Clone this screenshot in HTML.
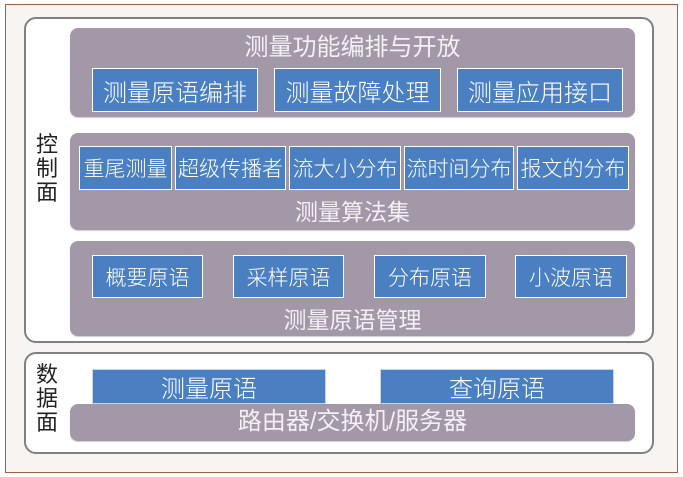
<!DOCTYPE html><html><head><meta charset="utf-8"><style>
body{margin:0;width:683px;height:477px;background:#fff;position:relative;overflow:hidden;font-family:"Liberation Sans","Noto Sans CJK SC",sans-serif;}
div{position:absolute;box-sizing:border-box}
.o{left:5px;top:4px;width:673px;height:469px;border:1px solid #a0604a;background:#f7f4f1}
.p{border:2px solid #808080;border-radius:12px;background:#fff}
.g{background:#a298a7;border-radius:8px;box-shadow:0 1px 1px #ccc}
.b{background:#4a80c2;border:1px solid #fff;color:#fff;font-size:23px;display:flex;align-items:center;justify-content:center;white-space:nowrap;font-weight:300}
.t{color:#f4f0f4;font-size:23px;text-align:center;white-space:nowrap;line-height:26px}
.v{color:#222;font-size:22px;line-height:24px;width:24px;text-align:center}
</style></head><body>
<div class="o"></div>
<div class="p" style="left:24px;top:17px;width:630px;height:326px"></div>
<div class="p" style="left:24px;top:352px;width:630px;height:102px"></div>
<div class="v" style="left:35px;top:133px">控制面</div>
<div class="v" style="left:35px;top:363px">数据面</div>

<div class="g" style="left:70px;top:28px;width:565px;height:89px"></div>
<div class="t" style="left:70px;top:35px;width:565px;font-size:24px">测量功能编排与开放</div>
<div class="b" style="left:92px;top:68px;width:166px;height:44px;font-size:24px">测量原语编排</div>
<div class="b" style="left:274px;top:68px;width:167px;height:44px;font-size:24px">测量故障处理</div>
<div class="b" style="left:457px;top:68px;width:166px;height:44px;font-size:24px">测量应用接口</div>

<div class="g" style="left:70px;top:133px;width:565px;height:97px"></div>
<div class="b" style="left:79px;top:146px;width:93px;height:44px;font-size:21px">重尾测量</div>
<div class="b" style="left:175px;top:146px;width:111px;height:44px;font-size:21px">超级传播者</div>
<div class="b" style="left:289px;top:146px;width:112px;height:44px;font-size:21px">流大小分布</div>
<div class="b" style="left:404px;top:146px;width:110px;height:44px;font-size:21px">流时间分布</div>
<div class="b" style="left:517px;top:146px;width:112px;height:44px;font-size:21px">报文的分布</div>
<div class="t" style="left:70px;top:199px;width:565px">测量算法集</div>

<div class="g" style="left:70px;top:241px;width:565px;height:95px"></div>
<div class="b" style="left:92px;top:255px;width:111px;height:43px;font-size:21px">概要原语</div>
<div class="b" style="left:233px;top:255px;width:111px;height:43px;font-size:21px">采样原语</div>
<div class="b" style="left:374px;top:255px;width:112px;height:43px;font-size:21px">分布原语</div>
<div class="b" style="left:515px;top:255px;width:112px;height:43px;font-size:21px">小波原语</div>
<div class="t" style="left:70px;top:307px;width:565px">测量原语管理</div>

<div class="g" style="left:70px;top:404px;width:565px;height:37px"></div>
<div class="b" style="left:92px;top:369px;width:234px;height:35px;border-color:#c8d4e8;font-size:24px">测量原语</div>
<div class="b" style="left:380px;top:369px;width:234px;height:35px;border-color:#c8d4e8;font-size:24px">查询原语</div>
<div class="t" style="left:70px;top:409px;width:565px;font-size:24px">路由器/交换机/服务器</div>
</body></html>
